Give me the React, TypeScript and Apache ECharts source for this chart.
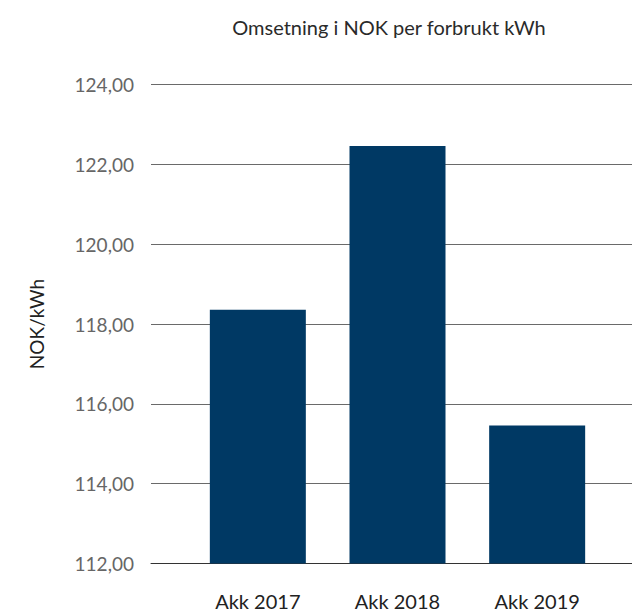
import React, { useEffect, useRef } from "react";
import * as echarts from "echarts";

const categories = ["Akk 2017", "Akk 2018", "Akk 2019"];
const values = [118.36, 122.46, 115.46];
const yMin = 112;
const yMax = 124;
const yInterval = 2;
const titleText = "Omsetning i NOK per forbrukt kWh";
const yAxisName = "NOK/kWh";

export default function App() {
  const ref = useRef<HTMLDivElement>(null);
  useEffect(() => {
    if (!ref.current) return;
    const chart = echarts.init(ref.current, null, { renderer: "svg" });
    const font = "Lato, 'Noto Sans', sans-serif";
    chart.setOption({
      animation: false,
      title: {
        text: titleText,
        left: 384,
        textAlign: "center",
        top: 12,
        textStyle: { fontFamily: font, fontSize: 20, fontWeight: "normal", color: "#2a2a2a" },
      },
      grid: [
        { left: 151, right: 0, top: 84.5, bottom: 50.5 },
        { left: 188, right: 25, top: 84.5, bottom: 50.5 },
      ],
      xAxis: [
        {
          type: "category",
          gridIndex: 0,
          data: categories,
          axisLine: { show: true, lineStyle: { color: "#333", width: 1 } },
          axisTick: { show: false },
          axisLabel: { show: false },
        },
        {
          type: "category",
          gridIndex: 1,
          data: categories,
          axisLine: { show: false },
          axisTick: { show: false },
          axisLabel: { fontFamily: font, fontSize: 20, color: "#222", margin: 27 },
        },
      ],
      yAxis: [
        {
          type: "value",
          gridIndex: 0,
          min: yMin,
          max: yMax,
          interval: yInterval,
          name: yAxisName,
          nameLocation: "middle",
          nameGap: 105,
          nameTextStyle: { fontFamily: font, fontSize: 19, color: "#222" },
          axisLine: { show: false },
          axisTick: { show: false },
          axisLabel: {
            fontFamily: font,
            fontSize: 19,
            color: "#666",
            margin: 17,
            formatter: (v: number) => v.toFixed(2).replace(".", ","),
          },
          splitLine: { show: true, lineStyle: { color: "#6a6a6a", width: 1 } },
        },
        {
          type: "value",
          gridIndex: 1,
          min: yMin,
          max: yMax,
          interval: yInterval,
          show: false,
          splitLine: { show: false },
        },
      ],
      series: [
        {
          type: "bar",
          xAxisIndex: 1,
          yAxisIndex: 1,
          data: values,
          barWidth: 96,
          itemStyle: { color: "#003964" },
        },
      ],
    });
    return () => chart.dispose();
  }, []);
  return <div ref={ref} style={{ width: 632, height: 614, position: "absolute", left: 0, top: 0 }} />;
}
